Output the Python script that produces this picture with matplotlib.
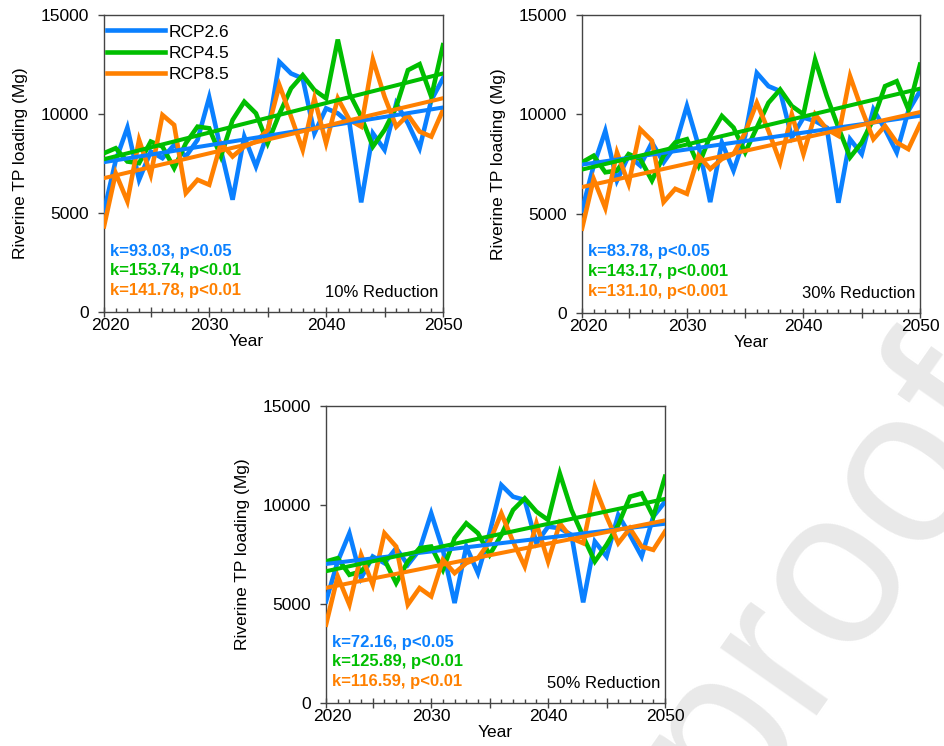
import numpy as np
import matplotlib
matplotlib.use("Agg")
import matplotlib.pyplot as plt
from matplotlib.ticker import FixedLocator, FuncFormatter, MultipleLocator
import matplotlib.transforms as mtransforms

plt.rcParams['font.family'] = ['Liberation Sans', 'DejaVu Sans']

years = list(range(2021, 2051))
scenarios = ['RCP2.6', 'RCP4.5', 'RCP8.5']
colors = ['#0A80FF', '#00BE00', '#FF8000']

# 10% reduction
p10_rcp26 = [5084, 7650, 9312, 6678, 8104, 7768, 8440, 7852, 8691, 10839,
             8188, 5671, 8859, 7349, 9027, 12634, 12047, 11795, 9027, 10285,
             10034, 9530, 5537, 9027, 8188, 10537, 9530, 8272, 10705, 11795]
p10_rcp45 = [8020, 8272, 7600, 7517, 8607, 8356, 7265, 8523, 9362, 9278,
             7852, 9698, 10621, 10034, 8523, 10000, 11292, 11963, 11208, 10789,
             13759, 11040, 9866, 8356, 9195, 10369, 12215, 12517, 10873, 13473]
p10_rcp85 = [4328, 7013, 5587, 8691, 6929, 9950, 9446, 6006, 6678, 6426,
             8523, 7852, 8356, 8607, 9195, 11460, 9866, 8188, 10789, 8523,
             10789, 9698, 9362, 12752, 10873, 9362, 9950, 9111, 8859, 10201]

# 30% reduction
p30_rcp26 = [5166, 7416, 9167, 6666, 7916, 7416, 8583, 7583, 8417, 10417,
             8417, 5583, 8583, 7166, 8917, 12083, 11417, 11167, 8833, 9833,
             9667, 9333, 5550, 8750, 8000, 10250, 9250, 8083, 10167, 11167]
p30_rcp45 = [7583, 7916, 7083, 7166, 8000, 7750, 6666, 7916, 8583, 8750,
             7416, 8917, 9917, 9333, 8083, 9333, 10583, 11250, 10417, 10000,
             12750, 10917, 9333, 7833, 8583, 9750, 11417, 11667, 10250, 12500]
p30_rcp85 = [4250, 6750, 5283, 8083, 6500, 9250, 8667, 5583, 6250, 6000,
             7916, 7250, 7750, 8000, 9083, 10583, 9167, 7583, 10000, 8000,
             10000, 9250, 8917, 11917, 10250, 8750, 9417, 8583, 8250, 9500]

# 50% reduction
p50_rcp26 = [5134, 7147, 8574, 6308, 7399, 7063, 7819, 6980, 7735, 9580,
             7735, 5050, 7903, 6560, 8600, 11007, 10420, 10252, 8070, 8909,
             8825, 8490, 5083, 8154, 7399, 9497, 8490, 7399, 9413, 10168]
p50_rcp45 = [7147, 7315, 6476, 6644, 7315, 7231, 6057, 7147, 7819, 7903,
             6728, 8322, 9077, 8574, 7483, 8490, 9748, 10336, 9664, 9245,
             11594, 9748, 8406, 7147, 7986, 8993, 10420, 10587, 9413, 11426]
p50_rcp85 = [3959, 6392, 4966, 7483, 5973, 8574, 7903, 4966, 5805, 5386,
             7231, 6560, 7063, 7315, 8154, 9580, 8154, 6896, 9077, 7147,
             9077, 8322, 8070, 10923, 9413, 8070, 8825, 7903, 7735, 8658]

panel_labels = ['10% Reduction', '30% Reduction', '50% Reduction']
stats_10 = ['k=93.03, p<0.05', 'k=153.74, p<0.01', 'k=141.78, p<0.01']
stats_30 = ['k=83.78, p<0.05', 'k=143.17, p<0.001', 'k=131.10, p<0.001']
stats_50 = ['k=72.16, p<0.05', 'k=125.89, p<0.01', 'k=116.59, p<0.01']

yticks = [0, 5000, 10000, 15000]
xtick_major = [2021, 2025, 2030, 2035, 2040, 2045, 2050]

fig = plt.figure(figsize=(9.44, 7.46), dpi=100)

# watermark
fig.text(1.04, 0.49, 'Journal Pre-proof', fontsize=160, color='#e9e9e9',
         rotation=55, ha='right', va='center', rotation_mode='anchor', zorder=0)

rects = [
    [104/944, 1-312/746, 339/944, 297/746],
    [582/944, 1-313/746, 338/944, 298/746],
    [326/944, 1-703/746, 339/944, 297/746],
]
panels = [
    ([p10_rcp26, p10_rcp45, p10_rcp85], stats_10),
    ([p30_rcp26, p30_rcp45, p30_rcp85], stats_30),
    ([p50_rcp26, p50_rcp45, p50_rcp85], stats_50),
]
xlabel_pos = [0.42, 0.5, 0.5]

def xfmt(x, pos):
    if abs(x - 2021) < 1e-6:
        return '2020'
    if int(round(x)) % 10 == 0:
        return str(int(round(x)))
    return ''

yrs = np.array(years, dtype=float)
for i, (rect, (series, stats)) in enumerate(zip(rects, panels)):
    ax = fig.add_axes(rect)
    ax.set_facecolor('none')
    ax.set_zorder(2)
    handles = []
    for s, name, c in zip(series, scenarios, colors):
        h, = ax.plot(yrs, s, color=c, lw=3.3, solid_joinstyle='miter', label=name, zorder=3)
        handles.append(h)
    for s, c in zip(series, colors):
        k, b = np.polyfit(yrs, np.array(s, dtype=float), 1)
        ax.plot([yrs[0], yrs[-1]], [k*yrs[0]+b, k*yrs[-1]+b], color=c, lw=2.9, zorder=4)
    ax.set_xlim(2021, 2050)
    ax.set_ylim(0, 15000)
    ax.set_yticks(yticks)
    ax.set_yticklabels([str(v) for v in yticks])
    ax.xaxis.set_major_locator(FixedLocator(xtick_major))
    ax.xaxis.set_major_formatter(FuncFormatter(xfmt))
    ax.xaxis.set_minor_locator(MultipleLocator(1))
    ax.tick_params(axis='x', which='major', direction='inout', length=7, width=1,
                   labelsize=12.5, pad=1, color='#444444')
    ax.tick_params(axis='x', which='minor', direction='in', length=3, width=1, color='#444444')
    ax.tick_params(axis='y', which='major', direction='out', length=4, width=1,
                   labelsize=12.5, pad=7, color='#444444')
    lbls = ax.get_xticklabels()
    offset = mtransforms.ScaledTranslation(6/100, 0, fig.dpi_scale_trans)
    lbls[0].set_transform(lbls[0].get_transform() + offset)
    for sp in ax.spines.values():
        sp.set_color('#444444')
        sp.set_linewidth(1)
    ax.set_xlabel('Year', fontsize=12.5, labelpad=1)
    ax.xaxis.set_label_coords(xlabel_pos[i], -0.075)
    ax.set_ylabel('Riverine TP loading (Mg)', fontsize=12.5, labelpad=9)
    for j, (t, c) in enumerate(zip(stats, colors)):
        ax.text(0.018, 0.205 - j*0.066, t, transform=ax.transAxes, color=c,
                fontsize=12, fontweight='bold', ha='left', va='center')
    ax.text(0.985, 0.065, panel_labels[i], transform=ax.transAxes, fontsize=12,
            ha='right', va='center')
    if i == 0:
        ax.legend(handles=handles, loc='upper left', bbox_to_anchor=(0.0, 0.98),
                  frameon=False, fontsize=12.5,
                  handlelength=3.3, handletextpad=0.25, labelspacing=0.34,
                  borderaxespad=0.1, borderpad=0.1)

fig.savefig('out.png', dpi=100)
